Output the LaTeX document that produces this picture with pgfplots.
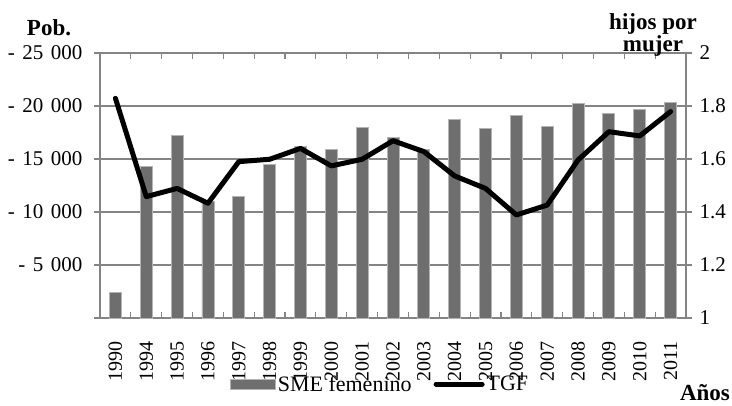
\documentclass[border=0pt]{standalone}
\usepackage{fontspec}
\setmainfont{Liberation Serif}
\usepackage{pgfplots}
\usepackage{pgfplotstable}
\pgfplotsset{compat=1.18}

\definecolor{barfill}{HTML}{6E6E6E}
\definecolor{barline}{HTML}{B4B4B4}
\definecolor{gridc}{HTML}{848484}

% x: posicion de la categoria, sme: poblacion (eje izq.), tgf: hijos por mujer (eje der.)
\pgfplotstableread{
x  sme    tgf
0  2400   1.829
1  14300  1.458
2  17200  1.489
3  11000  1.433
4  11500  1.590
5  14450  1.599
6  16200  1.640
7  15900  1.574
8  18000  1.599
9  17050  1.669
10 15900  1.628
11 18750  1.536
12 17900  1.489
13 19150  1.389
14 18050  1.426
15 20250  1.596
16 19300  1.703
17 19700  1.687
18 20350  1.779
}\datos

\newcommand{\esp}{\hspace{0.36em}}

\begin{document}
\begin{tikzpicture}[font=\fontsize{21bp}{25bp}\selectfont]
\useasboundingbox (-100bp,-88bp) rectangle (632bp,318bp);

% barras: SME femenino
\begin{axis}[
    at={(0,0)}, anchor=south west,
    scale only axis, width=586bp, height=265bp,
    /pgf/number format/assume math mode=true,
    ybar, bar width=12bp,
    xmin=-0.5, xmax=18.5, ymin=0, ymax=25000,
    scaled y ticks=false,
    axis line style={draw=gridc, line width=1.3bp},
    xtick={0,...,18},
    xticklabels={1990,1994,1995,1996,1997,1998,1999,2000,2001,2002,2003,2004,2005,2006,2007,2008,2009,2010,2011},
    xticklabel style={rotate=90, anchor=east, font=\fontsize{20bp}{24bp}\selectfont},
    xticklabel shift=20bp,
    minor xtick={0.5,1.5,...,17.5},
    major tick length=0pt, minor tick length=6bp, tick align=inside,
    minor x tick style={draw=gridc, line width=1.2bp},
    ytick={0,5000,10000,15000,20000,25000},
    yticklabels={,-\esp5\esp000,-\esp10\esp000,-\esp15\esp000,-\esp20\esp000,-\esp25\esp000},
    yticklabel style={xshift=-14bp},
    ymajorgrids, major grid style={draw=gridc, line width=1.3bp},
    legend style={at={(0.478,-0.25)}, anchor=center, draw=none, fill=none,
        legend columns=2, font=\fontsize{22bp}{26bp}\selectfont,
        /tikz/every even column/.append style={column sep=20bp}},
]
\addplot[fill=barfill, draw=barline, line width=0.8bp,
    legend image code/.code={\fill[barfill,draw=barline] (0bp,-5bp) rectangle (45bp,5bp);}]
    table[x=x, y=sme]{\datos};
\addlegendentry{SME femenino}
\addlegendimage{black, line width=5bp, line cap=round,
    legend image code/.code={\draw[black, line width=5bp, line cap=round] (0bp,0bp) -- (46bp,0bp);}}
\addlegendentry{TGF}
\end{axis}

% linea: TGF
\begin{axis}[
    at={(0,0)}, anchor=south west,
    scale only axis, width=586bp, height=265bp,
    /pgf/number format/assume math mode=true,
    xmin=-0.5, xmax=18.5, ymin=1, ymax=2,
    hide x axis,
    axis line style={draw=gridc, line width=1.3bp},
    yticklabel pos=right,
    ytick pos=both,
    ytick={1,1.2,1.4,1.6,1.8,2},
    yticklabels={1,1.2,1.4,1.6,1.8,2},
    tick align=outside, major tick length=6bp,
    major tick style={draw=gridc, line width=1.3bp},
    yticklabel style={xshift=4bp},
]
\addplot[black, line width=5bp, line join=round, line cap=round]
    table[x=x, y=tgf]{\datos};
\end{axis}

\node[font=\fontsize{23bp}{26bp}\selectfont\bfseries] at (-51bp,290bp) {Pob.};
\node[font=\fontsize{23bp}{26bp}\selectfont\bfseries, align=center] at (553bp,283bp) {hijos por\\[-4bp]mujer};
\node[font=\fontsize{23bp}{26bp}\selectfont\bfseries] at (605bp,-75bp) {Años};
\end{tikzpicture}
\end{document}
